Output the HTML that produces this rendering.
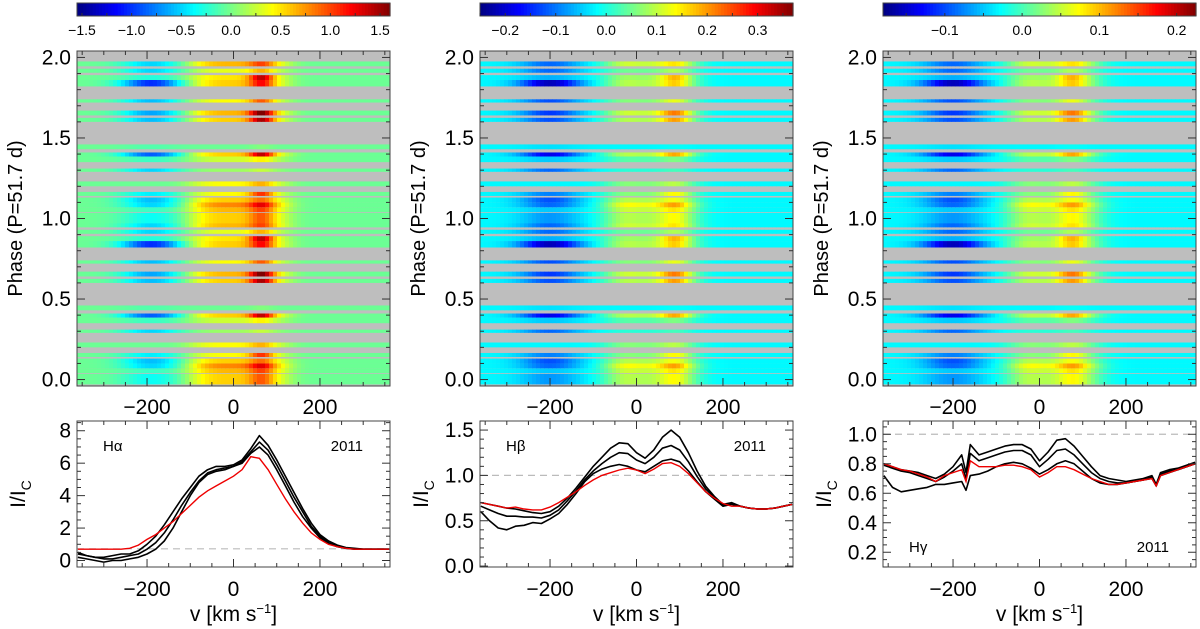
<!DOCTYPE html>
<html><head><meta charset="utf-8"><style>
html,body{margin:0;padding:0;background:#fff;}
svg{display:block;font-family:"Liberation Sans",sans-serif;}
</style></head><body>
<svg id="fig" width="1200" height="629" viewBox="0 0 1200 629" xmlns="http://www.w3.org/2000/svg"></svg>
<script>
// ---- data ----
var panelLines = ["Hα", "Hβ", "Hγ"];
var panelYears = ["2011", "2011", "2011"];
var cbarMin = [-1.55, -0.25, -0.18];
var cbarMax = [1.6, 0.37, 0.225];
var cbarLabels = [[-1.5, -1.0, -0.5, 0.0, 0.5, 1.0, 1.5], [-0.2, -0.1, 0.0, 0.1, 0.2, 0.3], [-0.1, 0.0, 0.1, 0.2]];
var cbarLabelText = [["−1.5", "−1.0", "−0.5", "0.0", "0.5", "1.0", "1.5"], ["−0.2", "−0.1", "0.0", "0.1", "0.2", "0.3"], ["−0.1", "0.0", "0.1", "0.2"]];
var cbarMinorStep = [0.25, 0.05, 0.05];
var rowStart = [-0.03, 0.04, 0.07, 0.10, 0.14, 0.20, 0.29, 0.35, 0.385, 0.43, 0.60, 0.64, 0.72, 0.82, 0.86, 0.905, 0.945];
var rowEnd =   [0.035, 0.07, 0.10, 0.13, 0.165, 0.23, 0.31, 0.385, 0.41, 0.46, 0.625, 0.67, 0.74, 0.86, 0.89, 0.93, 0.975];
var rowBlue =  [-0.4, -0.2, -0.6, -0.7, -0.5, 0.0, -0.6, -0.2, -1.1, -0.1, -0.7, -0.8, -0.7, -1.3, -0.3, -0.6, -0.6];
var rowBroad = [0.8, 0.9, 1.1, 0.8, 0.6, 0.6, 0.2, 0.4, 0.8, 0.0, 0.8, 0.9, 0.6, 0.8, 0.7, 0.5, 0.9];
var rowPeak =  [0.6, 0.6, 0.8, 0.5, 1.0, 0.4, 0.2, 0.3, 1.3, 0.1, 1.4, 1.5, 0.8, 1.0, 1.4, 0.5, 0.6];
var velA = [-360,-340,-320,-300,-280,-260,-240,-220,-200,-180,-160,-140,-120,-100,-80,-60,-40,-20,0,20,40,60,80,100,120,140,160,180,200,220,240,260,280,300,320,340,360];
var haRed =  [0.7,0.7,0.7,0.7,0.7,0.7,0.75,0.95,1.3,1.6,2.0,2.4,2.9,3.4,3.9,4.3,4.6,4.9,5.2,5.6,6.4,6.3,5.6,4.7,3.8,3.0,2.3,1.7,1.3,1.0,0.85,0.75,0.7,0.7,0.7,0.7,0.7];
var haHigh = [0.5,0.3,0.2,0.2,0.3,0.4,0.4,0.6,1.0,1.5,2.2,3.0,3.8,4.5,5.2,5.6,5.8,5.8,5.9,6.2,6.9,7.7,7.1,6.2,5.2,4.2,3.2,2.3,1.6,1.2,0.95,0.8,0.75,0.7,0.7,0.7,0.7];
var haMid =  [0.4,0.3,0.2,0.1,0.1,0.2,0.3,0.4,0.7,1.1,1.7,2.5,3.4,4.2,4.9,5.4,5.6,5.7,5.8,6.1,6.7,7.3,6.8,5.9,4.9,3.9,3.0,2.1,1.5,1.1,0.9,0.78,0.72,0.7,0.7,0.7,0.7];
var haLow =  [0.2,0.1,0.0,-0.1,0.0,0.0,0.1,0.2,0.4,0.7,1.2,2.0,3.0,4.0,4.8,5.3,5.5,5.6,5.8,6.0,6.6,7.0,6.5,5.6,4.6,3.6,2.7,2.0,1.4,1.05,0.85,0.75,0.7,0.7,0.7,0.7,0.7];
var hbRed =  [0.70,0.68,0.66,0.64,0.65,0.63,0.62,0.62,0.65,0.70,0.76,0.82,0.89,0.95,1.00,1.03,1.06,1.08,1.06,1.02,1.07,1.13,1.14,1.10,1.02,0.92,0.82,0.75,0.69,0.66,0.66,0.64,0.63,0.63,0.64,0.66,0.68];
var hbHigh = [0.70,0.68,0.66,0.64,0.63,0.61,0.59,0.58,0.60,0.66,0.75,0.86,0.98,1.10,1.20,1.30,1.36,1.35,1.25,1.19,1.28,1.42,1.50,1.42,1.25,1.05,0.88,0.77,0.68,0.70,0.66,0.64,0.63,0.63,0.64,0.66,0.68];
var hbMid =  [0.66,0.62,0.58,0.55,0.55,0.54,0.54,0.53,0.56,0.62,0.72,0.83,0.95,1.05,1.13,1.20,1.25,1.24,1.17,1.13,1.20,1.30,1.33,1.28,1.15,0.99,0.85,0.76,0.67,0.69,0.66,0.64,0.63,0.63,0.64,0.66,0.68];
var hbLow =  [0.60,0.50,0.42,0.40,0.44,0.45,0.48,0.47,0.52,0.58,0.68,0.80,0.93,1.02,1.07,1.10,1.12,1.10,1.06,1.04,1.10,1.16,1.18,1.15,1.05,0.93,0.82,0.74,0.66,0.68,0.66,0.64,0.63,0.63,0.64,0.66,0.68];
var velG = [-360,-340,-320,-300,-280,-260,-240,-220,-200,-180,-170,-160,-140,-120,-100,-80,-60,-40,-20,0,20,40,60,80,100,120,140,160,180,200,220,240,260,270,280,300,320,340,360];
var hgRed =  [0.80,0.78,0.76,0.75,0.73,0.71,0.68,0.72,0.74,0.76,0.68,0.82,0.78,0.78,0.78,0.79,0.79,0.78,0.76,0.71,0.74,0.78,0.78,0.76,0.73,0.70,0.68,0.66,0.66,0.67,0.68,0.69,0.70,0.65,0.72,0.74,0.76,0.78,0.80];
var hgHigh = [0.80,0.78,0.76,0.75,0.74,0.72,0.70,0.73,0.78,0.86,0.74,0.93,0.86,0.88,0.90,0.92,0.93,0.93,0.90,0.82,0.88,0.96,0.97,0.92,0.85,0.78,0.72,0.70,0.69,0.68,0.69,0.70,0.72,0.66,0.74,0.76,0.77,0.79,0.81];
var hgMid =  [0.79,0.77,0.75,0.74,0.72,0.70,0.68,0.71,0.75,0.80,0.70,0.87,0.82,0.84,0.86,0.88,0.89,0.89,0.86,0.78,0.83,0.89,0.90,0.86,0.80,0.74,0.70,0.68,0.67,0.67,0.68,0.69,0.71,0.65,0.73,0.75,0.76,0.78,0.80];
var hgLow =  [0.72,0.64,0.61,0.62,0.63,0.64,0.66,0.66,0.67,0.68,0.62,0.72,0.73,0.75,0.78,0.80,0.81,0.80,0.77,0.73,0.76,0.80,0.82,0.80,0.75,0.70,0.67,0.66,0.66,0.67,0.68,0.69,0.70,0.65,0.72,0.74,0.76,0.78,0.80];
var yMin = [-0.4, -0.01, 0.1];
var yMax = [8.6, 1.6, 1.09];
var yTicks = [[0,2,4,6,8],[0.0,0.5,1.0,1.5],[0.2,0.4,0.6,0.8,1.0]];
var yTickText = [["0","2","4","6","8"],["0.0","0.5","1.0","1.5"],["0.2","0.4","0.6","0.8","1.0"]];
var yMinor = [0.5, 0.1, 0.05];
var dashVal = [0.72, 1.0, 1.0];
var phaseTicks = [0.0, 0.5, 1.0, 1.5, 2.0];
var velTicks = [-200, 0, 200];
var velTickText = ["−200", "0", "200"];

var profVel = [velA, velA, velG];
var profRed = [haRed, hbRed, hgRed];
var profBlack = [[haHigh, haMid, haLow], [hbHigh, hbMid, hbLow], [hgHigh, hgMid, hgLow]];

// ---- layout ----
var NS = "http://www.w3.org/2000/svg";
var fig = document.getElementById("fig");
var X0 = [77, 480, 883], W = 313;
var HT = 51, HB = 386, LT = 421, LB = 567, CT = 3, CB = 16;
var VMIN = -362, VMAX = 362, PMIN = -0.04, PMAX = 2.04;
var zeroPos = [0.48, 0.37, 0.37], valScale = [0.24, 0.24, 0.24];
var blueC = [-190, -200, -200], blueW = [70, 70, 70];
var peakC = [65, 90, 75], peakW = [28, 35, 35];

function mk(tag, attrs, parent) {
  var e = document.createElementNS(NS, tag);
  for (var k in attrs) e.setAttribute(k, attrs[k]);
  (parent || fig).appendChild(e);
  return e;
}
function xv(i, v) { return X0[i] + (v - VMIN) / (VMAX - VMIN) * W; }
function phY(p) { return HB - (p - PMIN) / (PMAX - PMIN) * (HB - HT); }
function intY(i, y) { return LB - (y - yMin[i]) / (yMax[i] - yMin[i]) * (LB - LT); }
function clamp01(x) { return Math.max(0, Math.min(1, x)); }
function jet(t) {
  t = clamp01(t);
  var r = clamp01(1.5 - Math.abs(4*t - 3)), g = clamp01(1.5 - Math.abs(4*t - 2)), b = clamp01(1.5 - Math.abs(4*t - 1));
  return "rgb(" + Math.round(r*255) + "," + Math.round(g*255) + "," + Math.round(b*255) + ")";
}
function gauss(v, c, w) { var q = (v - c) / w; return Math.exp(-q*q); }
function broad(i, v) {
  if (i === 0) { var q = (v - 10) / 115; return Math.exp(-q*q*q*q); }
  return 0.9*gauss(v, -25, 55) + 0.9*gauss(v, 90, 55) + 0.3*gauss(v, 35, 40);
}
function txt(s, x, y, size, anchor, parent) {
  var t = mk("text", { x: x, y: y, "font-size": size, "text-anchor": anchor || "middle", fill: "#000" }, parent);
  t.textContent = s;
  return t;
}
function tsp(parent, s, attrs) {
  var t = mk("tspan", attrs || {}, parent);
  t.textContent = s;
  return t;
}

function drawPanel(i) {
  var x0 = X0[i];
  var cb = mk("g", {});
  
  
  var nSeg = 100;
  for (var k = 0; k < nSeg; k++) {
    mk("rect", { x: x0 + k * W / nSeg, y: CT, width: W / nSeg + 0.6, height: CB - CT, fill: jet((k + 0.5) / nSeg) }, cb);
  }
  mk("rect", { x: x0, y: CT, width: W, height: CB - CT, fill: "none", stroke: "#444", "stroke-width": 1 }, cb);
  function cx(v) { return x0 + (v - cbarMin[i]) / (cbarMax[i] - cbarMin[i]) * W; }
  var st = cbarMinorStep[i];
  for (var n = Math.ceil(cbarMin[i] / st); n * st <= cbarMax[i]; n++) {
    var vv = n * st;
    mk("line", { x1: cx(vv), x2: cx(vv), y1: CB, y2: CB - 3, stroke: "#333" }, cb);
  }
  for (var k2 = 0; k2 < cbarLabels[i].length; k2++) {
    var ct = txt(cbarLabelText[i][k2], cx(cbarLabels[i][k2]), 35, 14, "middle", cb);
    
    
  }

  var hm = mk("g", {});
  
  
  mk("rect", { x: x0, y: HT, width: W, height: HB - HT, fill: "#bebebe" }, hm);
  var cellW = 4;
  for (var shift = 0; shift <= 1; shift++) {
    for (var r = 0; r < rowStart.length; r++) {
      var p0 = Math.max(PMIN, rowStart[r] + shift), p1 = Math.min(PMAX, rowEnd[r] + shift);
      if (p1 <= p0) continue;
      var ya = phY(p1), yb = phY(p0);
      for (var px = 0; px < W; px += cellW) {
        var v = VMIN + (px + cellW / 2) / W * (VMAX - VMIN);
        var val = rowBlue[r] * gauss(v, blueC[i], blueW[i]) + rowBroad[r] * broad(i, v) + rowPeak[r] * gauss(v, peakC[i], peakW[i]) * (i === 0 ? 0.9 : 0.5);
        var cell = mk("rect", { x: x0 + px, y: ya, width: Math.min(cellW + 0.5, W - px), height: yb - ya, fill: jet(zeroPos[i] + val * valScale[i]) }, hm);
        
        
      }
    }
  }
  mk("rect", { x: x0, y: HT, width: W, height: HB - HT, fill: "none", stroke: "#444", "stroke-width": 1 }, hm);
  for (var tv = -350; tv <= 350; tv += 50) {
    var L = (tv % 200 === 0) ? 8 : 4;
    mk("line", { x1: xv(i, tv), x2: xv(i, tv), y1: HT, y2: HT + L, stroke: "#333" }, hm);
    mk("line", { x1: xv(i, tv), x2: xv(i, tv), y1: HB, y2: HB - L, stroke: "#333" }, hm);
  }
  for (var kp = 0; kp <= 20; kp++) {
    var pp = kp / 10, Lp = (kp % 5 === 0) ? 8 : 4;
    mk("line", { x1: x0, x2: x0 + Lp, y1: phY(pp), y2: phY(pp), stroke: "#333" }, hm);
    mk("line", { x1: x0 + W, x2: x0 + W - Lp, y1: phY(pp), y2: phY(pp), stroke: "#333" }, hm);
  }
  for (var a = 0; a < phaseTicks.length; a++) {
    var pl = txt(phaseTicks[a].toFixed(1), x0 - 6, phY(phaseTicks[a]) + 7, 21, "end", hm);
    
    
  }
  for (var b = 0; b < velTicks.length; b++) txt(velTickText[b], xv(i, velTicks[b]), 414, 21, "middle", hm);
  var pt = txt("Phase (P=51.7 d)", 0, 0, 20, "middle", hm);
  pt.setAttribute("transform", "translate(" + (x0 - 55) + "," + ((HT + HB) / 2) + ") rotate(-90)");
  
  

  var lp = mk("g", {});
  
  
  var defs = mk("defs", {}, lp);
  var cp = mk("clipPath", { id: "cp" + i }, defs);
  mk("rect", { x: x0, y: LT, width: W, height: LB - LT }, cp);
  mk("line", { x1: x0, x2: x0 + W, y1: intY(i, dashVal[i]), y2: intY(i, dashVal[i]), stroke: "#bbb", "stroke-width": 1.2, "stroke-dasharray": "7,5" }, lp);
  var vel = profVel[i];
  function pathOf(arr) {
    var d = "";
    for (var k = 0; k < arr.length; k++) d += (k ? "L" : "M") + xv(i, vel[k]).toFixed(1) + "," + intY(i, arr[k]).toFixed(1);
    return d;
  }
  for (var c = 0; c < profBlack[i].length; c++) {
    var pth = mk("path", { d: pathOf(profBlack[i][c]), fill: "none", stroke: "#000", "stroke-width": 1.6, "stroke-linejoin": "round", "clip-path": "url(#cp" + i + ")" }, lp);
    
    
  }
  var red = mk("path", { d: pathOf(profRed[i]), fill: "none", stroke: "#e00", "stroke-width": 1.4, "clip-path": "url(#cp" + i + ")" }, lp);
  
  
  mk("rect", { x: x0, y: LT, width: W, height: LB - LT, fill: "none", stroke: "#444", "stroke-width": 1 }, lp);
  for (var tv2 = -350; tv2 <= 350; tv2 += 50) {
    var L2 = (tv2 % 200 === 0) ? 8 : 4;
    mk("line", { x1: xv(i, tv2), x2: xv(i, tv2), y1: LT, y2: LT + L2, stroke: "#333" }, lp);
    mk("line", { x1: xv(i, tv2), x2: xv(i, tv2), y1: LB, y2: LB - L2, stroke: "#333" }, lp);
  }
  var ms = yMinor[i];
  for (var m = Math.ceil(yMin[i] / ms - 1e-9); m * ms <= yMax[i] + 1e-9; m++) {
    var yy = m * ms, big = false;
    for (var q = 0; q < yTicks[i].length; q++) if (Math.abs(yTicks[i][q] - yy) < 1e-6) big = true;
    var L3 = big ? 8 : 4;
    mk("line", { x1: x0, x2: x0 + L3, y1: intY(i, yy), y2: intY(i, yy), stroke: "#333" }, lp);
    mk("line", { x1: x0 + W, x2: x0 + W - L3, y1: intY(i, yy), y2: intY(i, yy), stroke: "#333" }, lp);
  }
  for (var e = 0; e < yTicks[i].length; e++) {
    var il = txt(yTickText[i][e], x0 - 6, intY(i, yTicks[i][e]) + 7, 21, "end", lp);
    
    
  }
  for (var f = 0; f < velTicks.length; f++) txt(velTickText[f], xv(i, velTicks[f]), 596, 21, "middle", lp);
  var xt = mk("text", { x: x0 + W / 2, y: 621, "font-size": 21, "text-anchor": "middle" }, lp);
  tsp(xt, "v [km s");
  tsp(xt, "−1", { dy: -8, "font-size": 13 });
  tsp(xt, "]", { dy: 8 });
  
  
  var yt = mk("text", { "font-size": 21, "text-anchor": "middle", transform: "translate(" + (x0 - 52) + "," + ((LT + LB) / 2) + ") rotate(-90)" }, lp);
  tsp(yt, "I/I");
  tsp(yt, "C", { dy: 6, "font-size": 14 });
  
  
  var lineY = i === 2 ? 552 : 451;
  var ln = txt(panelLines[i], x0 + 26, lineY, 15, "start", lp);
  
  
  var yr = txt(panelYears[i], x0 + W - 27, lineY, 15, "end", lp);
  
  
}

for (var pi = 0; pi < 3; pi++) {
  try { drawPanel(pi); } catch (err) { console.log(err); }
}
</script>
</body></html>
